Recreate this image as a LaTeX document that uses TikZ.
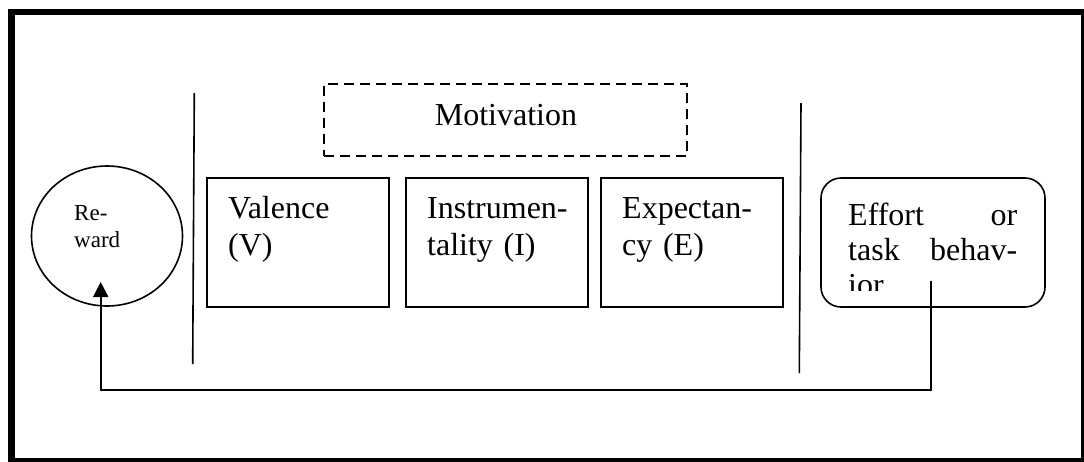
\documentclass[tikz,border=0pt]{standalone}
\usepackage{fontspec}
\setmainfont{Liberation Serif}
\usetikzlibrary{positioning}
\usetikzlibrary{shapes.geometric}
\usetikzlibrary{arrows.meta}

\tikzset{
  factor/.style={draw, line width=1.6pt, minimum width=182pt, minimum height=129pt},
  boxtext/.style={anchor=base west, inner sep=0, text width=#1, align=left,
    font=\fontsize{32}{37}\selectfont},
  divider/.style={line width=1.6pt}
}

\begin{document}
\begin{tikzpicture}[x=1pt, y=-1pt]
  \useasboundingbox (0,0) rectangle (1084,461);

  % frame
  \draw[line width=6.5pt] (11.5,12) rectangle (1083.75,461);

  % motivation
  \node[draw, line width=2pt, dash pattern=on 10pt off 6pt,
        minimum width=363pt, minimum height=72pt] (motiv) at (505.5,120) {};
  \node[anchor=base, inner sep=0, font=\fontsize{32}{37}\selectfont] (motivtext) at (506,125) {Motivation};

  % reward
  \node[draw, ellipse, line width=1.6pt, minimum width=151pt, minimum height=140pt] (reward) at (107,236) {};
  \node[anchor=base west, inner sep=0, text width=40pt, align=left,
        font=\fontsize{23}{27}\selectfont] (rewardtext) at (74,220) {Re-\\ward};

  % dividers
  \draw[divider] (194.3,93) -- (192.7,364);
  \draw[divider] (801,103) -- (799.3,373);

  % V, I, E
  \node[factor] (valence) at (298,242.5) {};
  \node[boxtext=150pt] (valencetext) at (228,218) {Valence\\(V)};
  \node[factor] (instr) at (497,242.5) {};
  \node[boxtext=150pt] (instrtext) at (427,218) {Instrumen-\\tality (I)};
  \node[factor] (expect) at (692,242.5) {};
  \node[boxtext=150pt] (expecttext) at (622,218) {Expectan-\\cy (E)};

  % effort
  \node[draw, line width=1.6pt, rounded corners=20pt, minimum width=224pt, minimum height=129pt] (effort) at (933,242.5) {};
  \begin{scope}
    \clip (821,178) rectangle (1045,290);
    \node[boxtext=169pt, font=\fontsize{32}{35}\selectfont] (efforttext) at (848,225)
      {Effort\hfill or\\task\hfill behav-\\ior};
  \end{scope}

  % feedback
  \coordinate (fromeffort) at (931,281);
  \coordinate (toreward) at (100.7,282);
  \draw[line width=1.7pt, -{Triangle[width=15pt,length=15pt]}] (fromeffort) -- ++(0,109) -| (toreward);
\end{tikzpicture}
\end{document}
